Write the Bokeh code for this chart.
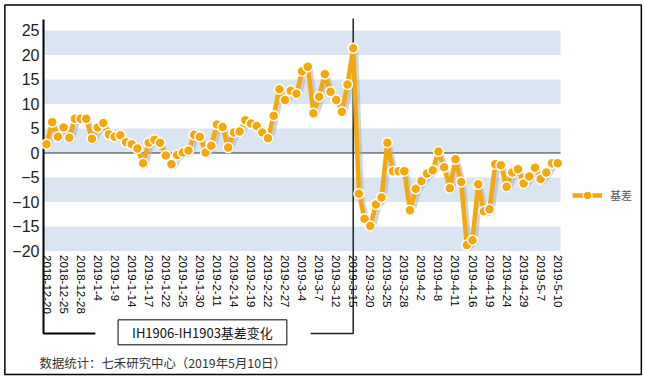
import numpy as np
from bokeh.plotting import figure
from bokeh.models import Range1d, FixedTicker, Label, Legend, LegendItem
from bokeh.embed import file_html
from bokeh.resources import INLINE

# ---------------- data ----------------
basis = [1.8, 6.3, 3.3, 5.2, 3.1, 7.0, 7.0, 7.0, 2.9, 5.2,
         6.1, 3.8, 3.3, 3.6, 2.2, 1.8, 0.9, -2.1, 2.1, 2.7,
         2.1, -0.5, -2.3, -0.4, 0.1, 0.5, 3.7, 3.3, 0.1, 1.5,
         5.8, 5.3, 1.1, 4.2, 4.4, 6.7, 6.0, 5.5, 4.2, 3.0,
         7.6, 13.0, 10.8, 12.7, 12.1, 16.7, 17.6, 8.1, 11.5, 16.1,
         12.5, 10.8, 8.4, 14.0, 21.4, -8.3, -13.4, -14.9, -10.5, -9.1,
         2.1, -3.7, -3.7, -3.7, -11.7, -7.3, -5.7, -4.2, -3.5, 0.3,
         -2.9, -7.2, -1.3, -5.9, -18.8, -17.8, -6.4, -11.9, -11.5, -2.3,
         -2.5, -6.9, -4.0, -3.3, -6.2, -4.8, -3.0, -5.3, -4.0, -2.1,
         -2.1]
tick_labels = ["2018-12-20", "2018-12-25", "2018-12-28", "2019-1-4", "2019-1-9",
               "2019-1-14", "2019-1-17", "2019-1-22", "2019-1-25", "2019-1-30",
               "2019-2-11", "2019-2-14", "2019-2-19", "2019-2-22", "2019-2-27",
               "2019-3-4", "2019-3-7", "2019-3-12", "2019-3-15", "2019-3-20",
               "2019-3-25", "2019-3-28", "2019-4-2", "2019-4-8", "2019-4-11",
               "2019-4-16", "2019-4-19", "2019-4-24", "2019-4-29", "2019-5-7",
               "2019-5-10"]
tick_step = 3
y_ticks = [-20, -15, -10, -5, 0, 5, 10, 15, 20, 25]
band_bottoms = [20, 10, 0, -10, -20]
band_height = 5
split_label = "2019-3-15"
series_name = "基差"
box_text = "IH1906-IH1903基差变化"
footer_text = "数据统计：七禾研究中心（2019年5月10日）"

# ---------------- derived ----------------
n = len(basis)
x = np.arange(n)
y = np.array(basis)
ticks = list(range(0, n, tick_step))
overrides = {t: lab for t, lab in zip(ticks, tick_labels)}
split_idx = ticks[tick_labels.index(split_label)]

ORANGE = "#f3a80c"
BAND = "#dbe5f1"

# the frame covers the whole canvas; scales: 5.68 px per point, 4.9 px per unit
X0, X1 = -8.099, 105.46
Y0, Y1 = -46.225, 31.122
axis_x = -0.528          # where the value axis sits
axis_top = 27.245        # top of the value axis line
bracket_y = -36.84       # level of the bracket under the date labels
frame_l, frame_r = -7.33, 104.73   # outer border
frame_b, frame_t = -45.2, 30.2

p = figure(width=645, height=379, output_backend="svg", toolbar_location=None, tools="",
           x_range=Range1d(X0, X1), y_range=Range1d(Y0, Y1),
           min_border_left=0, min_border_right=0, min_border_top=0, min_border_bottom=0)
p.outline_line_color = None
p.grid.visible = False
p.background_fill_color = "white"
p.border_fill_color = "white"

# x axis
xa = p.xaxis[0]
xa.ticker = FixedTicker(ticks=ticks)
xa.major_label_overrides = overrides
xa.major_label_orientation = "vertical"
xa.fixed_location = band_bottoms[-1]
xa.axis_line_color = None
xa.major_tick_line_color = None
xa.minor_tick_line_color = None
xa.major_tick_out = 0
xa.major_tick_in = 0
xa.major_label_standoff = 4
xa.major_label_text_font = "Liberation Sans"
xa.major_label_text_font_size = "11.5px"
xa.major_label_text_color = "#000"

# y axis
ya = p.yaxis[0]
ya.ticker = FixedTicker(ticks=y_ticks)
ya.fixed_location = axis_x
ya.axis_line_color = None
ya.major_tick_line_color = None
ya.minor_tick_line_color = None
ya.major_tick_out = 0
ya.major_tick_in = 0
ya.major_label_standoff = 4
ya.major_label_text_font = "Liberation Sans"
ya.major_label_text_font_size = "16px"
ya.major_label_text_color = "#222"

# outer border
p.quad(left=[frame_l], right=[frame_r], bottom=[frame_b], top=[frame_t],
       fill_color=None, line_color="#000", line_width=1.5)
# bands
p.quad(left=-0.5, right=n - 0.5, bottom=band_bottoms,
       top=[b + band_height for b in band_bottoms],
       fill_color=BAND, line_color=None)
# zero line
p.segment(x0=[-0.5], y0=[0], x1=[n - 0.5], y1=[0], line_color="#333", line_width=1)
# value axis line + left bracket
p.line(x=[axis_x, axis_x, 8.6], y=[axis_top, bracket_y, bracket_y],
       line_color="#000", line_width=2)
# split line + right bracket
p.line(x=[split_idx, split_idx, split_idx - 7.5], y=[axis_top + 0.2, bracket_y, bracket_y],
       line_color="#222", line_width=1.5)

# shadow, line, markers
p.line(x + 0.5, y - 0.6, line_color="#aab0ba", line_alpha=0.55, line_width=4.5,
       line_join="round")
line_r = p.line(x, y, line_color=ORANGE, line_width=4.5, line_join="round")
dots_r = p.scatter(x, y, size=10, fill_color=ORANGE, line_color="white", line_width=1.5)

leg = Legend(items=[LegendItem(label=series_name, renderers=[line_r, dots_r])],
             location=(572, 173), border_line_color=None, background_fill_alpha=0,
             padding=0, margin=0, glyph_width=30, glyph_height=22, label_standoff=8,
             label_text_font="Noto Sans CJK SC", label_text_font_size="11px",
             label_text_color="#555")
p.add_layout(leg)

box = Label(x=27.46, y=-36.6, text=box_text, text_align="center", text_baseline="middle",
            text_font="Noto Sans CJK SC", text_font_size="13px", text_color="#111",
            border_line_color="#000", border_line_width=1, background_fill_color="white",
            padding=dict(left=14, right=14, top=3, bottom=3))
p.add_layout(box)

foot = Label(x=-1.23, y=-42.76, text=footer_text, text_align="left", text_baseline="middle",
             text_font="Noto Sans CJK SC", text_font_size="12.4px", text_color="#333")
p.add_layout(foot)

open("out.html", "w").write(file_html(p, INLINE))
